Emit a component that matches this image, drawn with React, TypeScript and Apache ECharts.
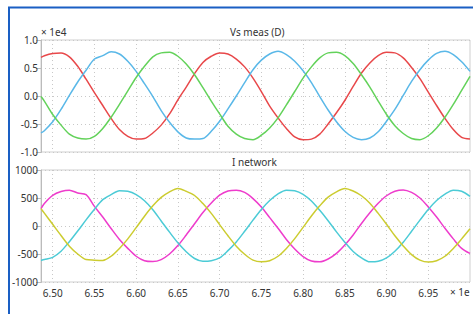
import React, { useEffect, useRef } from "react";
import * as echarts from "echarts";

const times: number[] = [6.486, 6.49,
  6.50, 6.51, 6.52, 6.53, 6.54, 6.55, 6.56, 6.57, 6.58, 6.59,
  6.60, 6.61, 6.62, 6.63, 6.64, 6.65, 6.66, 6.67, 6.68, 6.69,
  6.70, 6.71, 6.72, 6.73, 6.74, 6.75, 6.76, 6.77, 6.78, 6.79,
  6.80, 6.81, 6.82, 6.83, 6.84, 6.85, 6.86, 6.87, 6.88, 6.89,
  6.90, 6.91, 6.92, 6.93, 6.94, 6.95, 6.96, 6.97, 6.98, 6.99, 7.00];

// Voltage (x 1e4)
const vsRed: number[] = [0.69, 0.72,
  0.76, 0.77, 0.70, 0.53, 0.30, 0.06, -0.17, -0.40, -0.60, -0.72,
  -0.77, -0.76, -0.66, -0.52, -0.32, -0.07, 0.16, 0.40, 0.60, 0.71,
  0.77, 0.75, 0.66, 0.52, 0.32, 0.08, -0.18, -0.39, -0.58, -0.73,
  -0.78, -0.77, -0.68, -0.50, -0.30, -0.08, 0.17, 0.41, 0.59, 0.72,
  0.78, 0.77, 0.68, 0.51, 0.31, 0.07, -0.17, -0.40, -0.60, -0.74, -0.77];
const vsBlue: number[] = [-0.66, -0.62,
  -0.46, -0.24, 0.01, 0.25, 0.46, 0.66, 0.72, 0.79, 0.75, 0.62,
  0.44, 0.22, -0.01, -0.26, -0.47, -0.64, -0.75, -0.77, -0.76, -0.63,
  -0.45, -0.23, 0.00, 0.24, 0.47, 0.64, 0.75, 0.80, 0.74, 0.62,
  0.45, 0.24, -0.01, -0.25, -0.46, -0.63, -0.74, -0.78, -0.75, -0.64,
  -0.45, -0.24, 0.01, 0.26, 0.47, 0.64, 0.76, 0.80, 0.74, 0.61, 0.44];
const vsGreen: number[] = [-0.01, -0.09,
  -0.33, -0.52, -0.68, -0.75, -0.77, -0.72, -0.58, -0.38, -0.15, 0.09,
  0.33, 0.53, 0.70, 0.77, 0.78, 0.71, 0.57, 0.38, 0.15, -0.09,
  -0.32, -0.54, -0.68, -0.76, -0.78, -0.70, -0.57, -0.39, -0.16, 0.08,
  0.32, 0.52, 0.68, 0.77, 0.78, 0.72, 0.58, 0.38, 0.16, -0.09,
  -0.33, -0.53, -0.67, -0.76, -0.78, -0.71, -0.57, -0.38, -0.15, 0.10, 0.35];

// Network current
const iMagenta: number[] = [310, 400,
  545, 615, 640, 590, 560, 350, 160, -45, -240, -400,
  -540, -620, -635, -600, -500, -350, -160, 40, 240, 410,
  550, 625, 640, 600, 490, 340, 150, -40, -240, -410,
  -545, -625, -640, -590, -490, -340, -160, 45, 235, 405,
  540, 620, 645, 600, 500, 340, 160, -40, -230, -400, -490];
const iCyan: number[] = [-615, -600,
  -560, -450, -280, -90, 110, 300, 470, 560, 630, 620,
  560, 450, 290, 90, -110, -300, -460, -580, -630, -620,
  -570, -440, -285, -95, 105, 295, 455, 575, 640, 630,
  565, 445, 280, 95, -105, -290, -455, -570, -640, -630,
  -570, -450, -290, -95, 105, 295, 455, 570, 640, 620, 530];
const iYellow: number[] = [310, 230,
  30, -170, -360, -500, -600, -610, -615, -540, -400, -230,
  -30, 175, 360, 510, 610, 670, 620, 545, 400, 225,
  25, -175, -360, -505, -610, -640, -620, -540, -400, -225,
  -25, 180, 360, 515, 610, 670, 625, 540, 405, 225,
  30, -175, -355, -510, -610, -645, -620, -540, -400, -230, -50];

const xTicks: number[] = [6.5, 6.55, 6.6, 6.65, 6.7, 6.75, 6.8, 6.85, 6.9, 6.95];
const vTicks: number[] = [-1.0, -0.5, 0.0, 0.5, 1.0];
const iTicks: number[] = [-1000, -500, 0, 500, 1000];
const titles: string[] = ["Vs meas (D)", "I network"];

const FONT = "Noto Sans";
const TXT = "#333";

function pair(ys: number[]) {
  return times.map((t, i) => [t, ys[i]]);
}

export default function App() {
  const ref = useRef<HTMLDivElement>(null);
  useEffect(() => {
    if (!ref.current) return;
    const chart = echarts.init(ref.current, null, { renderer: "svg" });
    const xAxisBase = (gridIndex: number, showLabels: boolean) => ({
      type: "value",
      gridIndex,
      min: 6.486,
      max: 7.0,
      axisLine: { show: false },
      axisTick: { show: false, customValues: xTicks },
      axisLabel: {
        show: showLabels,
        customValues: xTicks,
        formatter: (v: number) => v.toFixed(2),
        color: TXT,
        fontFamily: FONT,
        fontSize: 10,
        margin: 6,
      },
      splitLine: { show: true, lineStyle: { color: "#c8c8c8", type: [1, 3], width: 1 } },
    });
    const yAxisBase = (gridIndex: number, ticks: number[], fmt: (v: number) => string) => ({
      type: "value",
      gridIndex,
      min: ticks[0],
      max: ticks[ticks.length - 1],
      interval: ticks[1] - ticks[0],
      axisLine: { show: true, lineStyle: { color: "#bbbbbb" } },
      axisTick: { show: true, length: 5, lineStyle: { color: "#bbbbbb" } },
      axisLabel: { color: TXT, fontFamily: FONT, fontSize: 10, margin: 3, formatter: fmt },
      splitLine: { show: true, lineStyle: { color: "#c8c8c8", type: [1, 3], width: 1 } },
    });
    const line = (name: string, x: number, ys: number[], color: string) => ({
      type: "line",
      name,
      xAxisIndex: x,
      yAxisIndex: x,
      data: pair(ys),
      showSymbol: false,
      symbol: "none",
      smooth: 0.3,
      lineStyle: { color, width: 1.5 },
    });
    chart.setOption({
      animation: false,
      backgroundColor: "#ffffff",
      grid: [
        { left: 41, top: 40, right: 3, height: 112, show: true, borderColor: "#cfcfcf", borderWidth: 1, backgroundColor: "transparent" },
        { left: 41, top: 170, right: 3, height: 112, show: true, borderColor: "#cfcfcf", borderWidth: 1, backgroundColor: "transparent" },
      ],
      xAxis: [xAxisBase(0, false), xAxisBase(1, true)],
      yAxis: [
        yAxisBase(0, vTicks, (v: number) => v.toFixed(1)),
        yAxisBase(1, iTicks, (v: number) => String(v)),
      ],
      series: [
        line("Vs red", 0, vsRed, "#e8484a"),
        line("Vs blue", 0, vsBlue, "#5ab8e8"),
        line("Vs green", 0, vsGreen, "#63d25a"),
        line("I magenta", 1, iMagenta, "#ee3ccc"),
        line("I cyan", 1, iCyan, "#4ccbd6"),
        line("I yellow", 1, iYellow, "#cccc30"),
      ],
      graphic: [
        { type: "line", shape: { x1: 8, y1: 7.5, x2: 473, y2: 7.5 }, style: { stroke: "#1a5fc4", lineWidth: 2 } },
        { type: "line", shape: { x1: 9, y1: 7, x2: 9, y2: 314 }, style: { stroke: "#1a5fc4", lineWidth: 2 } },
        { type: "text", left: 230, top: 27, style: { text: titles[0], fill: TXT, font: `10px "${FONT}"` } },
        { type: "text", left: 232, top: 157, style: { text: titles[1], fill: TXT, font: `10px "${FONT}"` } },
        { type: "text", left: 41, top: 27, style: { text: "× 1e4", fill: TXT, font: `10px "${FONT}"` } },
        { type: "text", left: 450, top: 287, style: { text: "× 1e", fill: TXT, font: `10px "${FONT}"` } },
      ],
    });
    return () => chart.dispose();
  }, []);
  return (
    <div
      ref={ref}
      style={{ position: "fixed", left: 0, top: 0, width: 473, height: 314, background: "#fff" }}
    />
  );
}
